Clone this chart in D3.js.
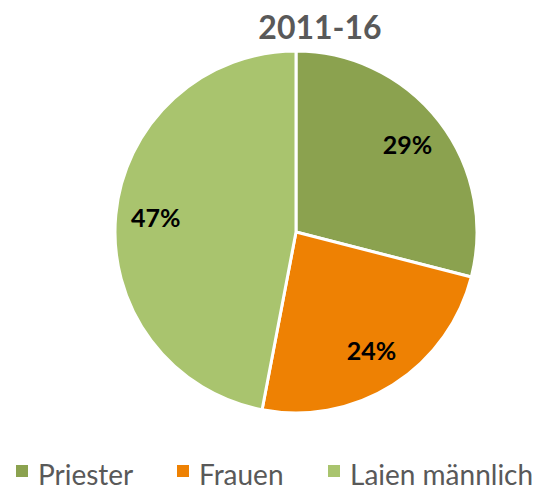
<!DOCTYPE html>
<html>
<head>
<meta charset="utf-8">
<script src="https://cdn.jsdelivr.net/npm/d3@7"></script>
<style>
  body { margin: 0; background: #fff; }
  svg { display: block; }
</style>
</head>
<body>
<svg id="chart" width="549" height="491"></svg>
<script>
const categories = ['Priester', 'Frauen', 'Laien männlich'];
const values = [29, 24, 47];
const colors = ['#8BA24F', '#EE8103', '#A9C46E'];
const title = '2011-16';

const svg = d3.select('#chart');
const cx = 296, cy = 232, radius = 181;

svg.append('text')
  .attr('x', 320)
  .attr('y', 39)
  .attr('text-anchor', 'middle')
  .style('font-family', 'Lato, sans-serif')
  .style('font-weight', 'bold')
  .style('font-size', '32px')
  .style('fill', '#595959')
  .text(title);

const pie = d3.pie().sort(null).value(d => d);
const arcs = pie(values);
const arc = d3.arc().innerRadius(0).outerRadius(radius);
const labelArc = d3.arc().innerRadius(141).outerRadius(141);

const g = svg.append('g').attr('transform', `translate(${cx},${cy})`);

g.selectAll('path')
  .data(arcs)
  .enter().append('path')
  .attr('d', arc)
  .attr('fill', (d, i) => colors[i])
  .attr('stroke', '#fff')
  .attr('stroke-width', 3)
  .attr('stroke-linejoin', 'round');

g.selectAll('text')
  .data(arcs)
  .enter().append('text')
  .attr('transform', d => `translate(${labelArc.centroid(d)})`)
  .attr('text-anchor', 'middle')
  .attr('dy', '0.35em')
  .style('font-family', 'Lato, sans-serif')
  .style('font-weight', 'bold')
  .style('font-size', '25px')
  .style('fill', '#000')
  .text(d => d.data + '%');

// legend
const legendX = [16, 177, 328];
const legend = svg.append('g')
  .selectAll('g')
  .data(categories)
  .enter().append('g')
  .attr('transform', (d, i) => `translate(${legendX[i]},465)`);

legend.append('rect')
  .attr('width', 12)
  .attr('height', 12)
  .attr('fill', (d, i) => colors[i]);

legend.append('text')
  .attr('x', 22)
  .attr('y', 20)
  .style('font-family', 'Lato, sans-serif')
  .style('font-size', '28px')
  .style('fill', '#595959')
  .text(d => d);
</script>
</body>
</html>
